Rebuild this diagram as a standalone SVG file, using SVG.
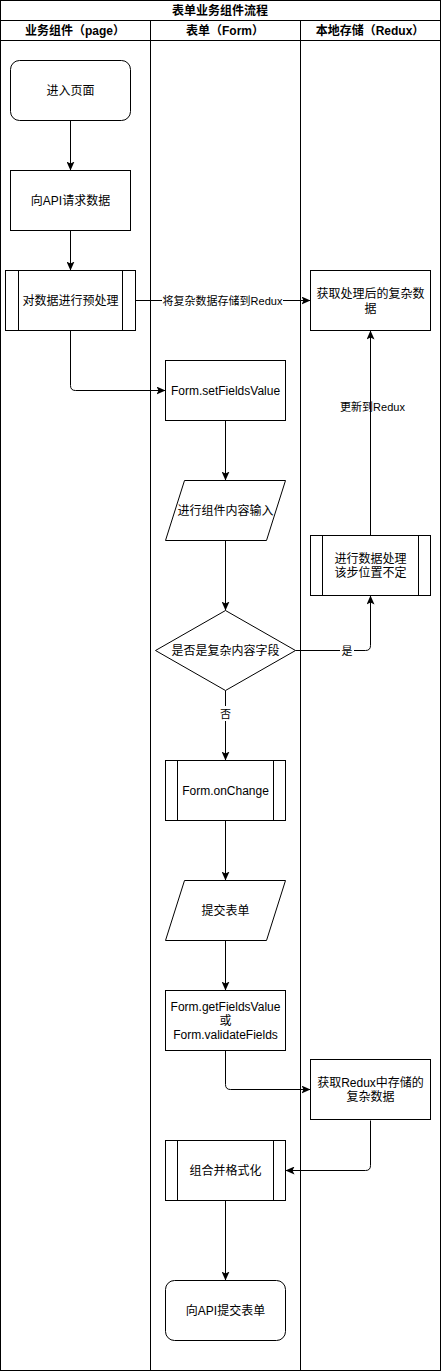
<svg xmlns="http://www.w3.org/2000/svg" width="441" height="1371" viewBox="0 0 441 1371">
<style>
text{font-family:"Liberation Sans","Noto Sans CJK SC",sans-serif;font-size:12px;fill:#000;text-anchor:middle;dominant-baseline:central}
.h{font-weight:bold}
.lbl{font-size:11px}
.n{fill:#fff;stroke:#000;stroke-width:1}
.ln{fill:none;stroke:#000;stroke-width:1}
.e{fill:none;stroke:#000;stroke-width:1;marker-end:url(#arr)}
</style>
<defs>
<marker id="arr" viewBox="0 0 9 8" refX="9" refY="4" markerWidth="9" markerHeight="8" markerUnits="userSpaceOnUse" orient="auto">
<path d="M0,0 L9,4 L0,8 L2,4 Z" fill="#000"/>
</marker>
</defs>
<rect width="441" height="1371" fill="#fff"/>
<g id="pool">
<rect class="ln" x="0.5" y="0.5" width="440" height="1370"/>
<line class="ln" x1="0.5" y1="20.5" x2="440.5" y2="20.5"/>
<line class="ln" x1="0.5" y1="40.5" x2="440.5" y2="40.5"/>
<line class="ln" x1="150.5" y1="20.5" x2="150.5" y2="1370.5"/>
<line class="ln" x1="300.5" y1="20.5" x2="300.5" y2="1370.5"/>
<text class="h" x="220" y="10.5">表单业务组件流程</text>
<text class="h" x="75" y="30.5">业务组件（page）</text>
<text class="h" x="225" y="30.5">表单（Form）</text>
<text class="h" x="370" y="30.5">本地存储（Redux）</text>
</g>
<g id="edges">
<path class="e" d="M70.5,120.5 L70.5,170.5"/>
<path class="e" d="M70.5,230.5 L70.5,270.5"/>
<path class="e" d="M135.5,300.5 L310.5,300.5"/>
<path class="e" d="M70.5,330.5 L70.5,385.5 Q70.5,390.5 75.5,390.5 L165.5,390.5"/>
<path class="e" d="M225.5,420.5 L225.5,480.5"/>
<path class="e" d="M225.5,540.5 L225.5,610.5"/>
<path class="e" d="M295.5,650.5 L365.5,650.5 Q370.5,650.5 370.5,645.5 L370.5,595.5"/>
<path class="e" d="M370.5,535.5 L370.5,330.5"/>
<path class="e" d="M225.5,690.5 L225.5,760.5"/>
<path class="e" d="M225.5,820.5 L225.5,880.5"/>
<path class="e" d="M225.5,940.5 L225.5,990.5"/>
<path class="e" d="M225.5,1050.5 L225.5,1084.5 Q225.5,1089.5 230.5,1089.5 L310.5,1089.5"/>
<path class="e" d="M370.5,1120.5 L370.5,1165.5 Q370.5,1170.5 365.5,1170.5 L285.5,1170.5"/>
<path class="e" d="M225.5,1200.5 L225.5,1280.5"/>
<rect x="162" y="293" width="121" height="15" fill="#fff"/>
<text class="lbl" x="222.5" y="300.5">将复杂数据存储到Redux</text>
<text class="lbl" x="372.5" y="406.5">更新到Redux</text>
<rect x="340" y="643" width="14" height="15" fill="#fff"/>
<text class="lbl" x="347" y="650.5">是</text>
<rect x="218" y="706" width="15" height="15" fill="#fff"/>
<text class="lbl" x="225.5" y="713.5">否</text>
</g>
<g id="n1">
<rect class="n" x="10.5" y="60.5" width="120" height="60" rx="9"/>
<text x="70.5" y="90.5">进入页面</text>
</g>
<g id="n2">
<rect class="n" x="10.5" y="170.5" width="120" height="60"/>
<text x="70.5" y="200.5">向API请求数据</text>
</g>
<g id="n3">
<rect class="n" x="5.5" y="270.5" width="130" height="60"/>
<line class="ln" x1="18.5" y1="270.5" x2="18.5" y2="330.5"/>
<line class="ln" x1="122.5" y1="270.5" x2="122.5" y2="330.5"/>
<text x="70.5" y="300.5">对数据进行预处理</text>
</g>
<g id="n4">
<rect class="n" x="310.5" y="270.5" width="120" height="60"/>
<text x="370.5" y="294">获取处理后的复杂数</text>
<text x="370.5" y="309">据</text>
</g>
<g id="n5">
<rect class="n" x="165.5" y="360.5" width="120" height="60"/>
<text x="225.5" y="390.5">Form.setFieldsValue</text>
</g>
<g id="n6">
<polygon class="n" points="184.5,480.5 285.5,480.5 266.5,540.5 165.5,540.5"/>
<text x="225.5" y="510.5">进行组件内容输入</text>
</g>
<g id="n7">
<rect class="n" x="310.5" y="535.5" width="120" height="60"/>
<line class="ln" x1="322.5" y1="535.5" x2="322.5" y2="595.5"/>
<line class="ln" x1="418.5" y1="535.5" x2="418.5" y2="595.5"/>
<text x="370.5" y="558.5">进行数据处理</text>
<text x="370.5" y="572.5">该步位置不定</text>
</g>
<g id="n8">
<polygon class="n" points="225.5,610.5 295.5,650.5 225.5,690.5 155.5,650.5"/>
<text x="225.5" y="650.5">是否是复杂内容字段</text>
</g>
<g id="n9">
<rect class="n" x="165.5" y="760.5" width="120" height="60"/>
<line class="ln" x1="177.5" y1="760.5" x2="177.5" y2="820.5"/>
<line class="ln" x1="273.5" y1="760.5" x2="273.5" y2="820.5"/>
<text x="225.5" y="790.5">Form.onChange</text>
</g>
<g id="n10">
<polygon class="n" points="184.5,880.5 285.5,880.5 266.5,940.5 165.5,940.5"/>
<text x="225.5" y="910.5">提交表单</text>
</g>
<g id="n11">
<rect class="n" x="165.5" y="990.5" width="120" height="60"/>
<text x="225.5" y="1006.5">Form.getFieldsValue</text>
<text x="225.5" y="1020.5">或</text>
<text x="225.5" y="1034.5">Form.validateFields</text>
</g>
<g id="n12">
<rect class="n" x="310.5" y="1059.5" width="120" height="60"/>
<text x="370.5" y="1082.5">获取Redux中存储的</text>
<text x="370.5" y="1096.5">复杂数据</text>
</g>
<g id="n13">
<rect class="n" x="165.5" y="1140.5" width="120" height="60"/>
<line class="ln" x1="177.5" y1="1140.5" x2="177.5" y2="1200.5"/>
<line class="ln" x1="273.5" y1="1140.5" x2="273.5" y2="1200.5"/>
<text x="225.5" y="1170.5">组合并格式化</text>
</g>
<g id="n14">
<rect class="n" x="165.5" y="1280.5" width="120" height="60" rx="9"/>
<text x="225.5" y="1310.5">向API提交表单</text>
</g>
</svg>
